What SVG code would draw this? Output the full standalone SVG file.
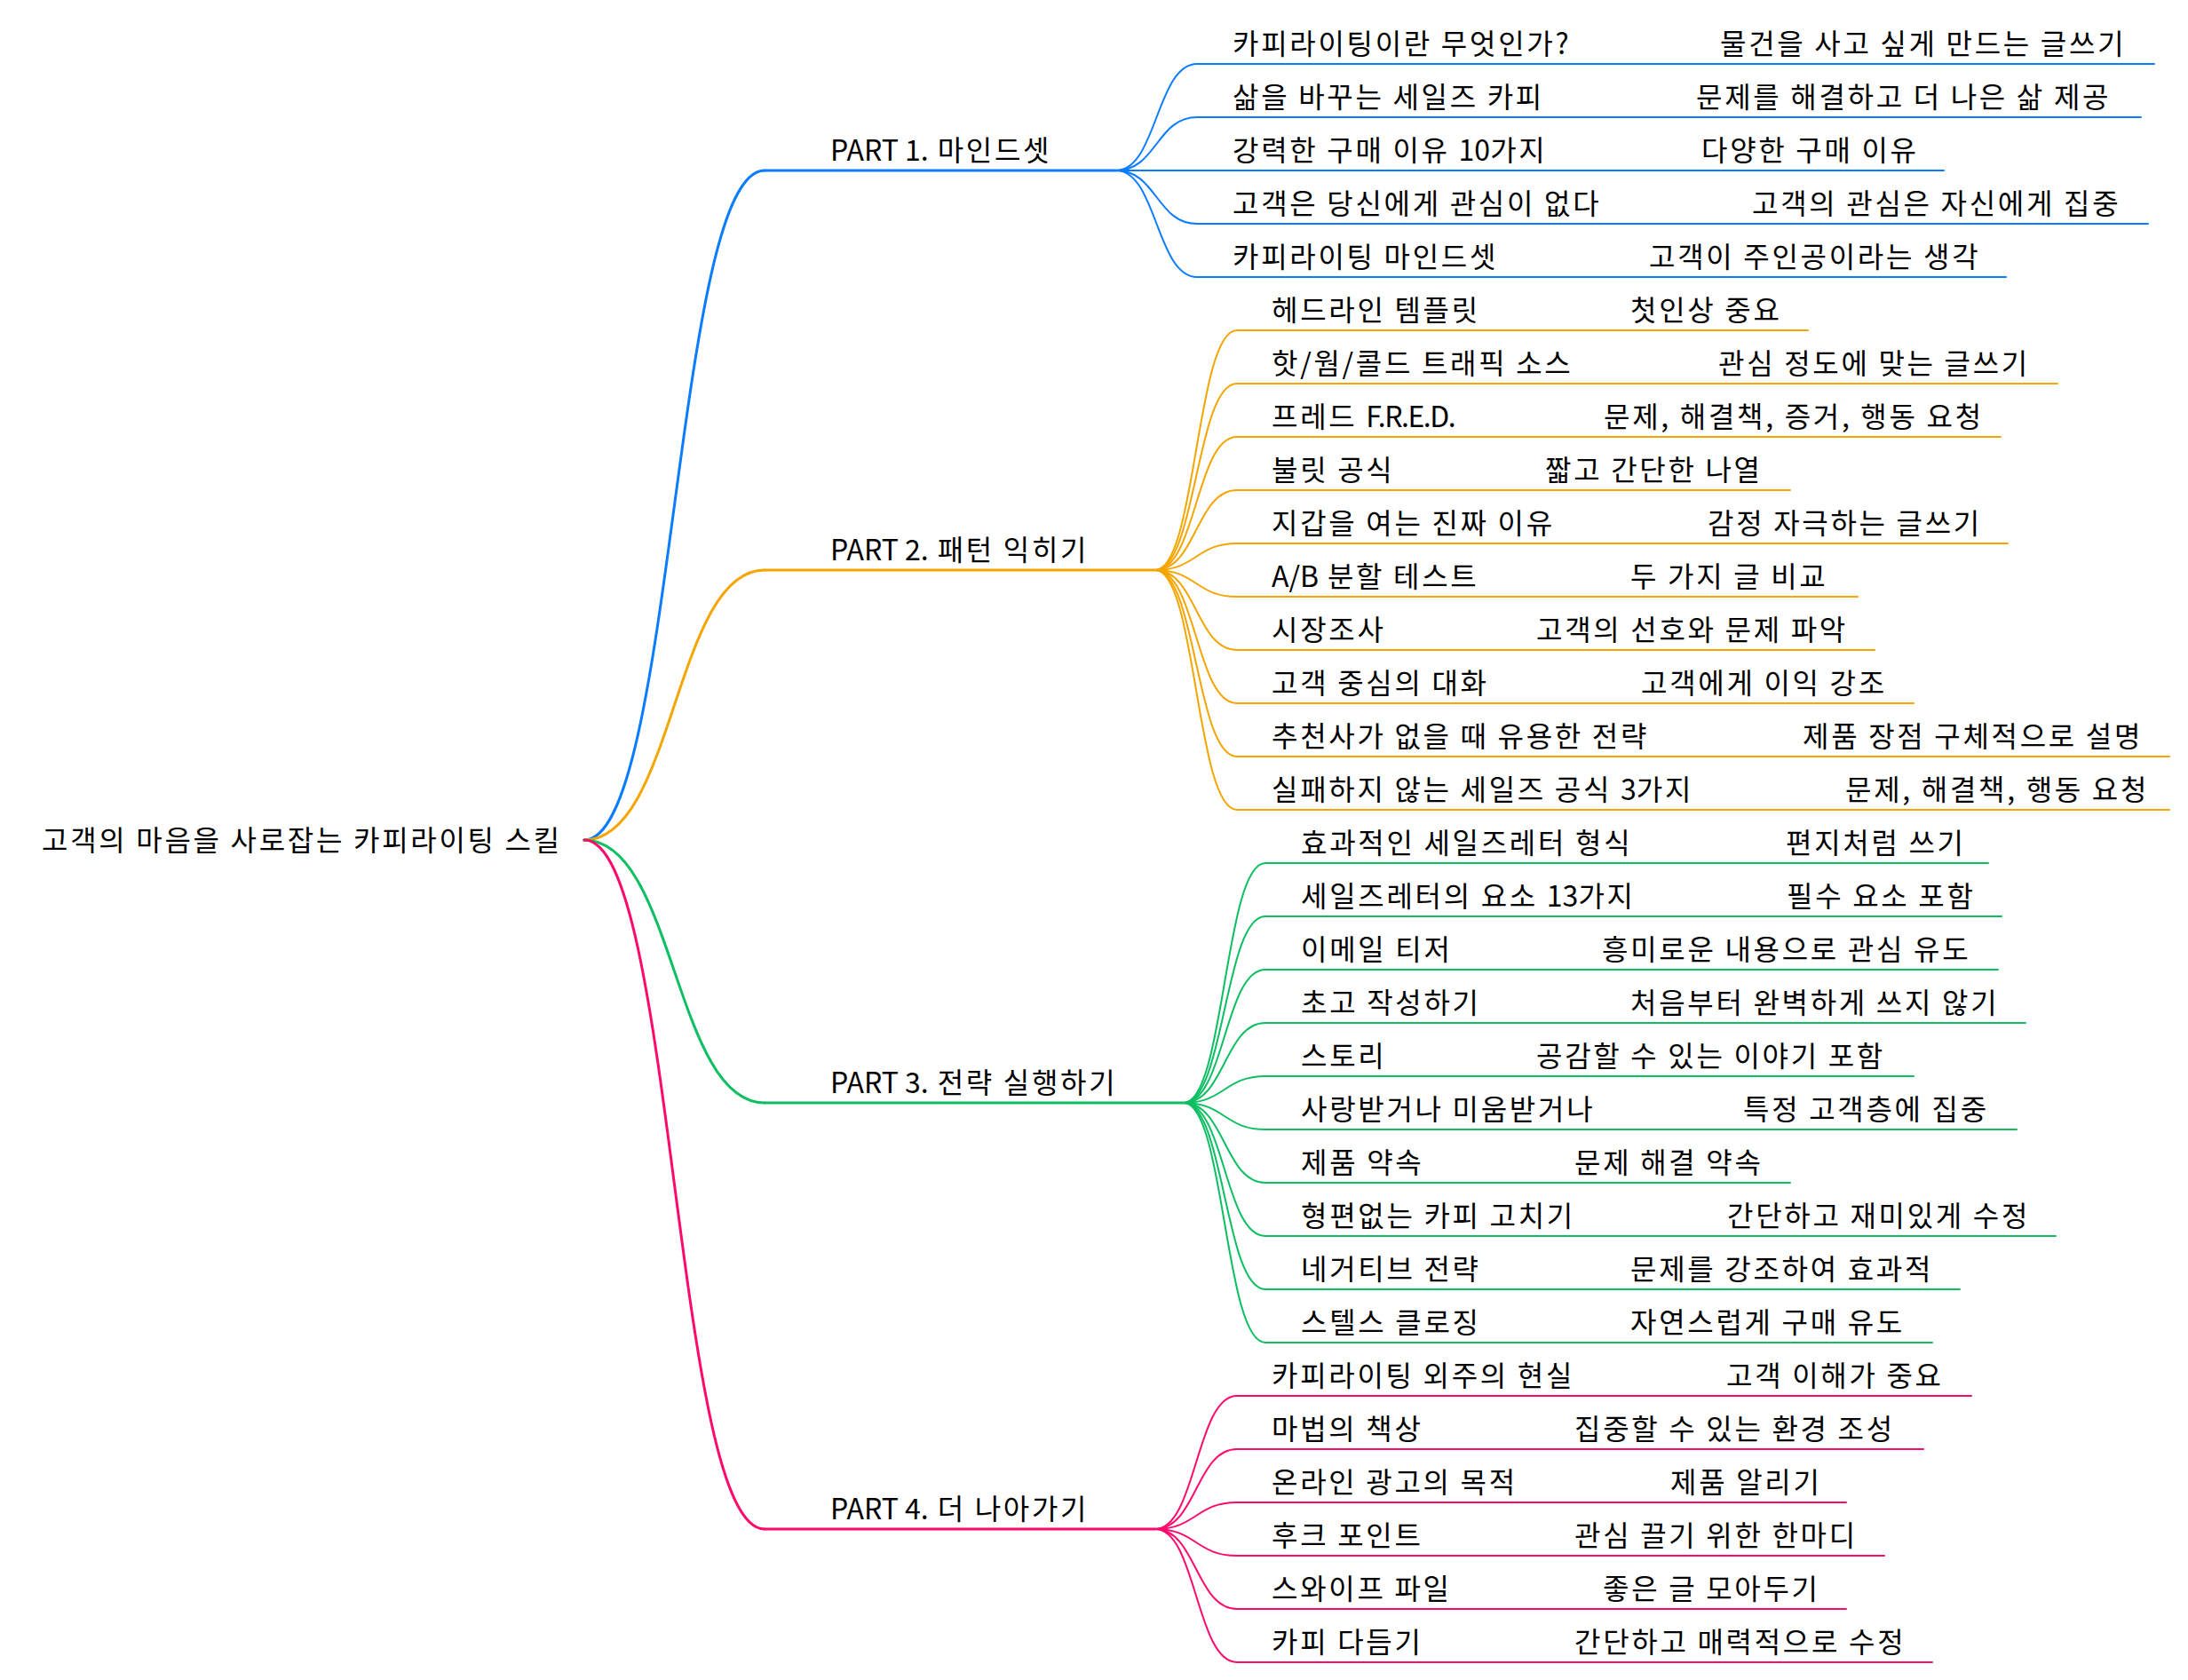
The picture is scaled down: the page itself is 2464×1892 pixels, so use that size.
<svg xmlns="http://www.w3.org/2000/svg" width="2464" height="1892" viewBox="0 0 2464 1892">
<style>
text{font-family:"Noto Sans CJK KR","Noto Sans",sans-serif;font-size:32px;fill:#000;letter-spacing:2.7px}
.n{letter-spacing:0}
.t{letter-spacing:-1.5px}
.l{fill:none;stroke-linecap:round}
.w3{stroke-width:3}
.w2{stroke-width:2}
.c1{stroke:#0a7cff}
.c2{stroke:#f5a500}
.c3{stroke:#0cbf62}
.c4{stroke:#ff0a6c}
</style>
<rect width="2464" height="1892" fill="#fff"/>
<g id="connectors">
<path class="l w3 c1" d="M658,946 C759.5,946 759.5,192 861,192"/>
<path class="l w3 c2" d="M658,946 C759.5,946 759.5,642 861,642"/>
<path class="l w3 c3" d="M658,946 C759.5,946 759.5,1242 861,1242"/>
<path class="l w3 c4" d="M658,946 C759.5,946 759.5,1722 861,1722"/>
<g class="l w2 c1">
<path d="M1257,192 C1302.5,192 1302.5,72 1348,72"/>
<path d="M1257,192 C1302.5,192 1302.5,132 1348,132"/>
<path d="M1257,192 C1302.5,192 1302.5,192 1348,192"/>
<path d="M1257,192 C1302.5,192 1302.5,252 1348,252"/>
<path d="M1257,192 C1302.5,192 1302.5,312 1348,312"/>
<path d="M1799,72 H1897"/><path d="M1773,132 H1870"/><path d="M1775,192 H1876"/><path d="M1838,252 H1933"/><path d="M1719,312 H1817"/>
</g>
<g class="l w2 c2">
<path d="M1301,642 C1347,642 1347,372 1393,372"/>
<path d="M1301,642 C1347,642 1347,432 1393,432"/>
<path d="M1301,642 C1347,642 1347,492 1393,492"/>
<path d="M1301,642 C1347,642 1347,552 1393,552"/>
<path d="M1301,642 C1347,642 1347,612 1393,612"/>
<path d="M1301,642 C1347,642 1347,672 1393,672"/>
<path d="M1301,642 C1347,642 1347,732 1393,732"/>
<path d="M1301,642 C1347,642 1347,792 1393,792"/>
<path d="M1301,642 C1347,642 1347,852 1393,852"/>
<path d="M1301,642 C1347,642 1347,912 1393,912"/>
<path d="M1698,372 H1796"/><path d="M1798,432 H1895"/><path d="M1670,492 H1766"/><path d="M1602,552 H1700"/><path d="M1784,612 H1883"/><path d="M1700,672 H1796"/><path d="M1592,732 H1690"/><path d="M1711,792 H1808"/><path d="M1893,852 H1990"/><path d="M1941,912 H2038"/>
</g>
<g class="l w2 c3">
<path d="M1333,1242 C1379,1242 1379,972 1425,972"/>
<path d="M1333,1242 C1379,1242 1379,1032 1425,1032"/>
<path d="M1333,1242 C1379,1242 1379,1092 1425,1092"/>
<path d="M1333,1242 C1379,1242 1379,1152 1425,1152"/>
<path d="M1333,1242 C1379,1242 1379,1212 1425,1212"/>
<path d="M1333,1242 C1379,1242 1379,1272 1425,1272"/>
<path d="M1333,1242 C1379,1242 1379,1332 1425,1332"/>
<path d="M1333,1242 C1379,1242 1379,1392 1425,1392"/>
<path d="M1333,1242 C1379,1242 1379,1452 1425,1452"/>
<path d="M1333,1242 C1379,1242 1379,1512 1425,1512"/>
<path d="M1867,972 H1971"/><path d="M1871,1032 H1972"/><path d="M1666,1092 H1764"/><path d="M1698,1152 H1796"/><path d="M1592,1212 H1690"/><path d="M1825,1272 H1923"/><path d="M1635,1332 H1733"/><path d="M1804,1392 H1905"/><path d="M1698,1452 H1796"/><path d="M1698,1512 H1796"/>
</g>
<g class="l w2 c4">
<path d="M1301,1722 C1347,1722 1347,1572 1393,1572"/>
<path d="M1301,1722 C1347,1722 1347,1632 1393,1632"/>
<path d="M1301,1722 C1347,1722 1347,1692 1393,1692"/>
<path d="M1301,1722 C1347,1722 1347,1752 1393,1752"/>
<path d="M1301,1722 C1347,1722 1347,1812 1393,1812"/>
<path d="M1301,1722 C1347,1722 1347,1872 1393,1872"/>
<path d="M1804,1572 H1904"/><path d="M1633,1632 H1733"/><path d="M1740,1692 H1841"/><path d="M1633,1752 H1733"/><path d="M1666,1812 H1765"/><path d="M1633,1872 H1733"/>
</g>
</g>
<g id="root"><text x="47" y="958">고객의 마음을 사로잡는 카피라이팅 스킬</text></g>
<g id="p1"><path class="l w3 c1" d="M861,192 H1257"/><text x="935" y="181"><tspan class="n">PART 1.</tspan> 마인드셋</text></g>
<g id="p2"><path class="l w3 c2" d="M861,642 H1301"/><text x="935" y="631"><tspan class="n">PART 2.</tspan> 패턴 익히기</text></g>
<g id="p3"><path class="l w3 c3" d="M861,1242 H1333"/><text x="935" y="1231"><tspan class="n">PART 3.</tspan> 전략 실행하기</text></g>
<g id="p4"><path class="l w3 c4" d="M861,1722 H1301"/><text x="935" y="1711"><tspan class="n">PART 4.</tspan> 더 나아가기</text></g>

<g id="p1-1"><path class="l w2 c1" d="M1348,72 H1799"/><text x="1388" y="61">카피라이팅이란 무엇인가?</text></g>
<g id="p1-1-1"><path class="l w2 c1" d="M1897,72 H2426"/><text x="1937" y="61">물건을 사고 싶게 만드는 글쓰기</text></g>
<g id="p1-2"><path class="l w2 c1" d="M1348,132 H1773"/><text x="1388" y="121">삶을 바꾸는 세일즈 카피</text></g>
<g id="p1-2-1"><path class="l w2 c1" d="M1870,132 H2411"/><text x="1910" y="121">문제를 해결하고 더 나은 삶 제공</text></g>
<g id="p1-3"><path class="l w2 c1" d="M1348,192 H1775"/><text x="1388" y="181">강력한 구매 이유 <tspan class="n">10</tspan>가지</text></g>
<g id="p1-3-1"><path class="l w2 c1" d="M1876,192 H2189"/><text x="1916" y="181">다양한 구매 이유</text></g>
<g id="p1-4"><path class="l w2 c1" d="M1348,252 H1838"/><text x="1388" y="241">고객은 당신에게 관심이 없다</text></g>
<g id="p1-4-1"><path class="l w2 c1" d="M1933,252 H2419"/><text x="1973" y="241">고객의 관심은 자신에게 집중</text></g>
<g id="p1-5"><path class="l w2 c1" d="M1348,312 H1719"/><text x="1388" y="301">카피라이팅 마인드셋</text></g>
<g id="p1-5-1"><path class="l w2 c1" d="M1817,312 H2259"/><text x="1857" y="301">고객이 주인공이라는 생각</text></g>

<g id="p2-1"><path class="l w2 c2" d="M1393,372 H1698"/><text x="1432" y="361">헤드라인 템플릿</text></g>
<g id="p2-1-1"><path class="l w2 c2" d="M1796,372 H2036"/><text x="1836" y="361">첫인상 중요</text></g>
<g id="p2-2"><path class="l w2 c2" d="M1393,432 H1798"/><text x="1432" y="421">핫/웜/콜드 트래픽 소스</text></g>
<g id="p2-2-1"><path class="l w2 c2" d="M1895,432 H2317"/><text x="1935" y="421">관심 정도에 맞는 글쓰기</text></g>
<g id="p2-3"><path class="l w2 c2" d="M1393,492 H1670"/><text x="1432" y="481">프레드 <tspan class="t">F.R.E.D.</tspan></text></g>
<g id="p2-3-1"><path class="l w2 c2" d="M1766,492 H2253"/><text x="1806" y="481">문제, 해결책, 증거, 행동 요청</text></g>
<g id="p2-4"><path class="l w2 c2" d="M1393,552 H1602"/><text x="1432" y="541">불릿 공식</text></g>
<g id="p2-4-1"><path class="l w2 c2" d="M1700,552 H2016"/><text x="1740" y="541">짧고 간단한 나열</text></g>
<g id="p2-5"><path class="l w2 c2" d="M1393,612 H1784"/><text x="1432" y="601">지갑을 여는 진짜 이유</text></g>
<g id="p2-5-1"><path class="l w2 c2" d="M1883,612 H2261"/><text x="1923" y="601">감정 자극하는 글쓰기</text></g>
<g id="p2-6"><path class="l w2 c2" d="M1393,672 H1700"/><text x="1432" y="661"><tspan class="n">A/B</tspan> 분할 테스트</text></g>
<g id="p2-6-1"><path class="l w2 c2" d="M1796,672 H2092"/><text x="1836" y="661">두 가지 글 비교</text></g>
<g id="p2-7"><path class="l w2 c2" d="M1393,732 H1592"/><text x="1432" y="721">시장조사</text></g>
<g id="p2-7-1"><path class="l w2 c2" d="M1690,732 H2111"/><text x="1730" y="721">고객의 선호와 문제 파악</text></g>
<g id="p2-8"><path class="l w2 c2" d="M1393,792 H1711"/><text x="1432" y="781">고객 중심의 대화</text></g>
<g id="p2-8-1"><path class="l w2 c2" d="M1808,792 H2155"/><text x="1848" y="781">고객에게 이익 강조</text></g>
<g id="p2-9"><path class="l w2 c2" d="M1393,852 H1893"/><text x="1432" y="841">추천사가 없을 때 유용한 전략</text></g>
<g id="p2-9-1"><path class="l w2 c2" d="M1990,852 H2443"/><text x="2030" y="841">제품 장점 구체적으로 설명</text></g>
<g id="p2-10"><path class="l w2 c2" d="M1393,912 H1941"/><text x="1432" y="901">실패하지 않는 세일즈 공식 <tspan class="n">3</tspan>가지</text></g>
<g id="p2-10-1"><path class="l w2 c2" d="M2038,912 H2443"/><text x="2078" y="901">문제, 해결책, 행동 요청</text></g>

<g id="p3-1"><path class="l w2 c3" d="M1425,972 H1867"/><text x="1465" y="961">효과적인 세일즈레터 형식</text></g>
<g id="p3-1-1"><path class="l w2 c3" d="M1971,972 H2239"/><text x="2011" y="961">편지처럼 쓰기</text></g>
<g id="p3-2"><path class="l w2 c3" d="M1425,1032 H1871"/><text x="1465" y="1021">세일즈레터의 요소 <tspan class="n">13</tspan>가지</text></g>
<g id="p3-2-1"><path class="l w2 c3" d="M1972,1032 H2254"/><text x="2012" y="1021">필수 요소 포함</text></g>
<g id="p3-3"><path class="l w2 c3" d="M1425,1092 H1666"/><text x="1465" y="1081">이메일 티저</text></g>
<g id="p3-3-1"><path class="l w2 c3" d="M1764,1092 H2250"/><text x="1804" y="1081">흥미로운 내용으로 관심 유도</text></g>
<g id="p3-4"><path class="l w2 c3" d="M1425,1152 H1698"/><text x="1465" y="1141">초고 작성하기</text></g>
<g id="p3-4-1"><path class="l w2 c3" d="M1796,1152 H2281"/><text x="1836" y="1141">처음부터 완벽하게 쓰지 않기</text></g>
<g id="p3-5"><path class="l w2 c3" d="M1425,1212 H1592"/><text x="1465" y="1201">스토리</text></g>
<g id="p3-5-1"><path class="l w2 c3" d="M1690,1212 H2155"/><text x="1730" y="1201">공감할 수 있는 이야기 포함</text></g>
<g id="p3-6"><path class="l w2 c3" d="M1425,1272 H1825"/><text x="1465" y="1261">사랑받거나 미움받거나</text></g>
<g id="p3-6-1"><path class="l w2 c3" d="M1923,1272 H2271"/><text x="1963" y="1261">특정 고객층에 집중</text></g>
<g id="p3-7"><path class="l w2 c3" d="M1425,1332 H1635"/><text x="1465" y="1321">제품 약속</text></g>
<g id="p3-7-1"><path class="l w2 c3" d="M1733,1332 H2016"/><text x="1773" y="1321">문제 해결 약속</text></g>
<g id="p3-8"><path class="l w2 c3" d="M1425,1392 H1804"/><text x="1465" y="1381">형편없는 카피 고치기</text></g>
<g id="p3-8-1"><path class="l w2 c3" d="M1905,1392 H2315"/><text x="1945" y="1381">간단하고 재미있게 수정</text></g>
<g id="p3-9"><path class="l w2 c3" d="M1425,1452 H1698"/><text x="1465" y="1441">네거티브 전략</text></g>
<g id="p3-9-1"><path class="l w2 c3" d="M1796,1452 H2207"/><text x="1836" y="1441">문제를 강조하여 효과적</text></g>
<g id="p3-10"><path class="l w2 c3" d="M1425,1512 H1698"/><text x="1465" y="1501">스텔스 클로징</text></g>
<g id="p3-10-1"><path class="l w2 c3" d="M1796,1512 H2176"/><text x="1836" y="1501">자연스럽게 구매 유도</text></g>

<g id="p4-1"><path class="l w2 c4" d="M1393,1572 H1804"/><text x="1432" y="1561">카피라이팅 외주의 현실</text></g>
<g id="p4-1-1"><path class="l w2 c4" d="M1904,1572 H2220"/><text x="1944" y="1561">고객 이해가 중요</text></g>
<g id="p4-2"><path class="l w2 c4" d="M1393,1632 H1633"/><text x="1432" y="1621">마법의 책상</text></g>
<g id="p4-2-1"><path class="l w2 c4" d="M1733,1632 H2166"/><text x="1773" y="1621">집중할 수 있는 환경 조성</text></g>
<g id="p4-3"><path class="l w2 c4" d="M1393,1692 H1740"/><text x="1432" y="1681">온라인 광고의 목적</text></g>
<g id="p4-3-1"><path class="l w2 c4" d="M1841,1692 H2079"/><text x="1881" y="1681">제품 알리기</text></g>
<g id="p4-4"><path class="l w2 c4" d="M1393,1752 H1633"/><text x="1432" y="1741">후크 포인트</text></g>
<g id="p4-4-1"><path class="l w2 c4" d="M1733,1752 H2122"/><text x="1773" y="1741">관심 끌기 위한 한마디</text></g>
<g id="p4-5"><path class="l w2 c4" d="M1393,1812 H1666"/><text x="1432" y="1801">스와이프 파일</text></g>
<g id="p4-5-1"><path class="l w2 c4" d="M1765,1812 H2079"/><text x="1805" y="1801">좋은 글 모아두기</text></g>
<g id="p4-6"><path class="l w2 c4" d="M1393,1872 H1633"/><text x="1432" y="1861">카피 다듬기</text></g>
<g id="p4-6-1"><path class="l w2 c4" d="M1733,1872 H2176"/><text x="1773" y="1861">간단하고 매력적으로 수정</text></g>
</svg>
